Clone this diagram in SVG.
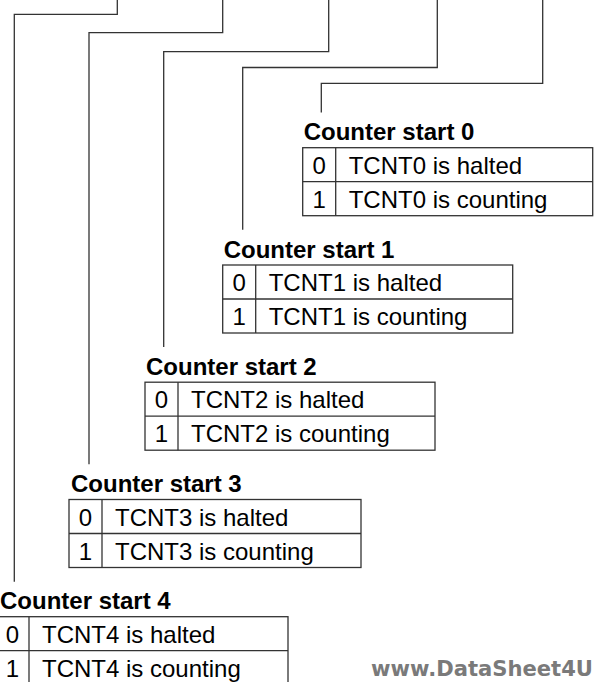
<svg xmlns="http://www.w3.org/2000/svg" width="595" height="682" viewBox="0 0 595 682">
<style>
.bg{fill:#ffffff}
.wire{fill:none;stroke:#333333;stroke-width:1.3}
.box{fill:none;stroke:#333333;stroke-width:1.3}
.head{font-family:"Liberation Sans",Arial,sans-serif;font-weight:bold;font-size:24px;fill:#000000}
.cell{font-family:"Liberation Sans",Arial,sans-serif;font-size:24px;fill:#000000}
.num{text-anchor:middle}
.wm{font-family:"DejaVu Sans",sans-serif;font-weight:bold;font-size:21px;fill:#7a7a7a}
</style>
<rect class="bg" x="0" y="0" width="595" height="682"/>
<g id="connectors">
<path class="wire" d="M542.7,0 V83.3 H321.3 V112.5"/>
<path class="wire" d="M437.3,0 V67.5 H242.7 V229.8"/>
<path class="wire" d="M328.7,0 V51.7 H163.7 V347"/>
<path class="wire" d="M222.7,0 V32.7 H89 V464.3"/>
<path class="wire" d="M117.3,0 V14.3 H14.3 V581.7"/>
</g>
<g id="counter-start-0" transform="translate(302.7,147.7)">
<text class="head" x="1" y="-7.5">Counter start 0</text>
<rect class="box" x="0" y="0" width="290" height="68"/>
<line class="box" x1="0" y1="34" x2="290" y2="34"/>
<line class="box" x1="33" y1="0" x2="33" y2="68"/>
<text class="cell num" x="16.5" y="26">0</text>
<text class="cell" x="46" y="26">TCNT0 is halted</text>
<text class="cell num" x="16.5" y="60">1</text>
<text class="cell" x="46" y="60">TCNT0 is counting</text>
</g>
<g id="counter-start-1" transform="translate(222.7,265)">
<text class="head" x="1" y="-7.5">Counter start 1</text>
<rect class="box" x="0" y="0" width="290" height="68"/>
<line class="box" x1="0" y1="34" x2="290" y2="34"/>
<line class="box" x1="33" y1="0" x2="33" y2="68"/>
<text class="cell num" x="16.5" y="26">0</text>
<text class="cell" x="46" y="26">TCNT1 is halted</text>
<text class="cell num" x="16.5" y="60">1</text>
<text class="cell" x="46" y="60">TCNT1 is counting</text>
</g>
<g id="counter-start-2" transform="translate(145,382.2)">
<text class="head" x="1" y="-7.5">Counter start 2</text>
<rect class="box" x="0" y="0" width="290" height="68"/>
<line class="box" x1="0" y1="34" x2="290" y2="34"/>
<line class="box" x1="33" y1="0" x2="33" y2="68"/>
<text class="cell num" x="16.5" y="26">0</text>
<text class="cell" x="46" y="26">TCNT2 is halted</text>
<text class="cell num" x="16.5" y="60">1</text>
<text class="cell" x="46" y="60">TCNT2 is counting</text>
</g>
<g id="counter-start-3" transform="translate(69,499.5)">
<text class="head" x="2" y="-7.5">Counter start 3</text>
<rect class="box" x="0" y="0" width="292" height="68"/>
<line class="box" x1="0" y1="34" x2="292" y2="34"/>
<line class="box" x1="33" y1="0" x2="33" y2="68"/>
<text class="cell num" x="16.5" y="26">0</text>
<text class="cell" x="46" y="26">TCNT3 is halted</text>
<text class="cell num" x="16.5" y="60">1</text>
<text class="cell" x="46" y="60">TCNT3 is counting</text>
</g>
<g id="counter-start-4" transform="translate(-4,616.7)">
<text class="head" x="4" y="-7.5">Counter start 4</text>
<rect class="box" x="0" y="0" width="292" height="68"/>
<line class="box" x1="0" y1="34" x2="292" y2="34"/>
<line class="box" x1="33" y1="0" x2="33" y2="68"/>
<text class="cell num" x="16.5" y="26">0</text>
<text class="cell" x="46" y="26">TCNT4 is halted</text>
<text class="cell num" x="16.5" y="60">1</text>
<text class="cell" x="46" y="60">TCNT4 is counting</text>
</g>
<text id="watermark" class="wm" x="371" y="676" textLength="222" lengthAdjust="spacingAndGlyphs">www.DataSheet4U</text>
</svg>
